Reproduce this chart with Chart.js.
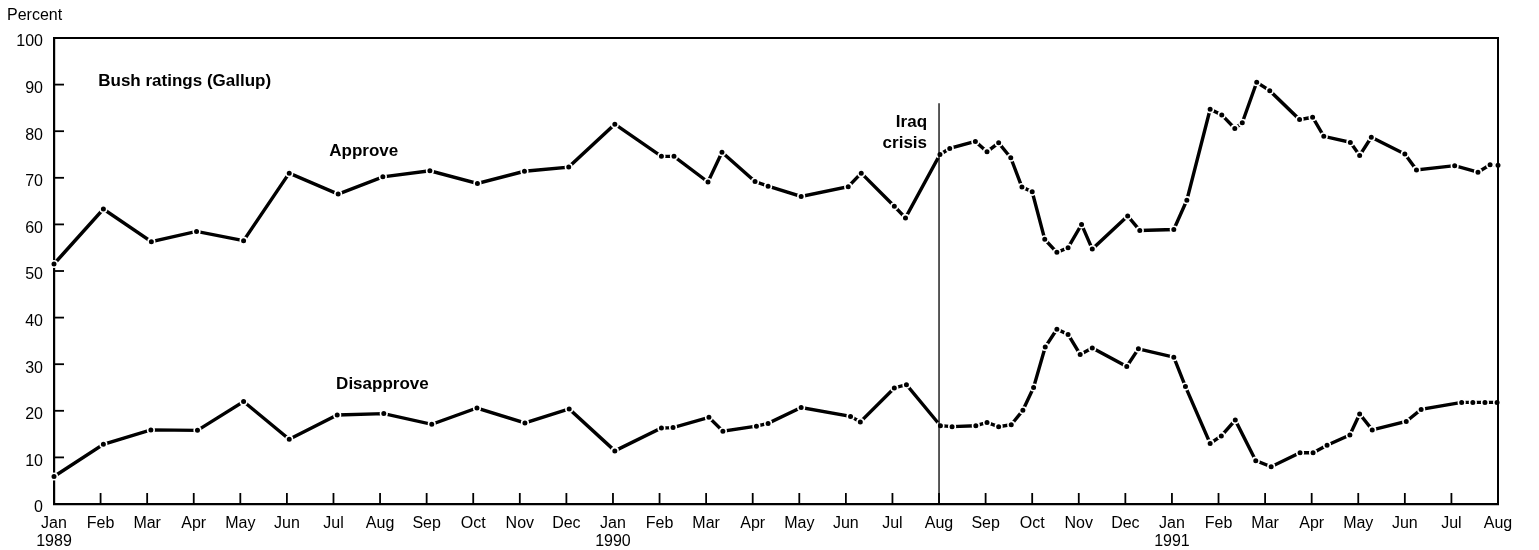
<!DOCTYPE html>
<html>
<head>
<meta charset="utf-8">
<script src="https://cdn.jsdelivr.net/npm/chart.js@4.4.1/dist/chart.umd.min.js"></script>
<style>
html,body{margin:0;padding:0;background:#fff;}
#wrap{position:relative;width:1539px;height:550px;}
</style>
</head>
<body>
<div id="wrap"><canvas id="c" width="1539" height="550"></canvas></div>
<script>
// Month ticks (0 = Jan 1989 ... 31 = Aug 1991)
const monthNames = ['Jan','Feb','Mar','Apr','May','Jun','Jul','Aug','Sep','Oct','Nov','Dec'];
const yearLabels = {0:'1989', 12:'1990', 24:'1991'};
const yTicks = [0,10,20,30,40,50,60,70,80,90,100];

// Approve series (x = fractional month index)
const approveX = [0.0,1.06,2.09,3.06,4.07,5.05,6.10,7.06,8.07,9.09,10.10,11.05,12.04,13.04,13.31,14.04,14.34,15.05,15.33,16.04,17.05,17.33,18.04,18.28,19.02,19.23,19.78,20.03,20.28,20.54,20.78,21.00,21.27,21.53,21.77,22.06,22.29,23.05,23.31,24.04,24.32,24.82,25.07,25.35,25.51,25.82,26.10,26.74,27.02,27.26,27.83,28.03,28.28,29.00,29.25,30.07,30.57,30.83,31.00];
const approveY = [51.5,63.3,56.3,58.5,56.5,71.0,66.5,70.2,71.5,68.8,71.4,72.3,81.5,74.6,74.6,69.1,75.5,69.2,68.2,66.0,68.1,71.0,63.9,61.4,75.0,76.3,77.8,75.6,77.5,74.3,68.0,67.0,56.8,54.0,55.0,60.0,54.7,61.8,58.7,58.9,65.2,84.7,83.5,80.6,81.8,90.5,88.7,82.5,83.0,78.9,77.6,74.8,78.7,75.1,71.7,72.6,71.2,72.8,72.7];

// Disapprove series
const disapproveX = [0.0,1.06,2.08,3.08,4.07,5.05,6.08,7.08,8.11,9.08,10.11,11.06,12.04,13.04,13.29,14.06,14.36,15.08,15.33,16.04,17.10,17.31,18.04,18.30,19.03,19.28,19.79,20.03,20.28,20.55,20.80,21.03,21.28,21.53,21.77,22.03,22.29,23.03,23.28,24.04,24.29,24.82,25.06,25.36,25.80,26.13,26.75,27.03,27.33,27.82,28.03,28.30,29.03,29.35,30.22,30.46,30.72,30.98];
const disapproveY = [5.9,12.8,15.9,15.8,22.0,13.9,19.1,19.4,17.1,20.6,17.4,20.4,11.4,16.3,16.4,18.6,15.6,16.7,17.3,20.7,18.8,17.6,24.9,25.6,16.8,16.6,16.8,17.5,16.6,17.0,20.1,25.0,33.7,37.5,36.4,32.1,33.5,29.5,33.3,31.5,25.2,13.0,14.6,18.0,9.3,8.0,11.0,11.0,12.6,14.8,19.3,15.9,17.7,20.3,21.8,21.8,21.8,21.8];

// Iraq crisis marker
const crisisMonth = [19];
const crisisTop = [86];

const FONT = "'Liberation Sans', Arial, Helvetica, sans-serif";

function pts(xs, ys){ return xs.map((x,i)=>({x:x, y:ys[i]})); }

const lineStyle = {
  borderColor:'#000', borderWidth:3.4, pointRadius:3.3, pointBackgroundColor:'#000',
  pointBorderColor:'#fff', pointBorderWidth:1.6, tension:0, fill:false, clip:false
};

const decor = {
  id:'decor',
  afterDatasetsDraw(chart){
    const ctx = chart.ctx, ca = chart.chartArea;
    const xs = chart.scales.x, ys = chart.scales.y;
    ctx.save();
    ctx.strokeStyle = '#000';
    // frame top and right
    ctx.lineWidth = 2;
    ctx.beginPath();
    ctx.moveTo(ca.left, ca.top); ctx.lineTo(ca.right, ca.top); ctx.lineTo(ca.right, ca.bottom);
    ctx.stroke();
    // inner x ticks
    ctx.lineWidth = 1.8;
    for(let m=1;m<31;m++){
      const px = xs.getPixelForValue(m);
      ctx.beginPath(); ctx.moveTo(px, ca.bottom); ctx.lineTo(px, ca.bottom-11); ctx.stroke();
    }
    // inner y ticks
    for(const v of yTicks){
      if(v===0||v===100) continue;
      const py = ys.getPixelForValue(v);
      ctx.beginPath(); ctx.moveTo(ca.left, py); ctx.lineTo(ca.left+10, py); ctx.stroke();
    }
    // crisis line
    ctx.lineWidth = 1.3;
    const cx = xs.getPixelForValue(crisisMonth[0]);
    ctx.beginPath(); ctx.moveTo(cx, ys.getPixelForValue(0)); ctx.lineTo(cx, ys.getPixelForValue(crisisTop[0])); ctx.stroke();

    ctx.fillStyle = '#000';
    ctx.textBaseline = 'middle';
    // y tick labels (sit slightly below their ticks, as in the original)
    ctx.font = '16px ' + FONT;
    ctx.textAlign = 'right';
    for(const v of yTicks){
      ctx.fillText(String(v), ca.left - 11, ys.getPixelForValue(v) + 4);
    }
    // annotations
    ctx.font = 'bold 17px ' + FONT;
    ctx.textAlign = 'left';
    ctx.fillText('Bush ratings (Gallup)', xs.getPixelForValue(0.95), ys.getPixelForValue(90.8));
    ctx.textAlign = 'center';
    ctx.fillText('Approve', xs.getPixelForValue(6.65), ys.getPixelForValue(75.7));
    ctx.fillText('Disapprove', xs.getPixelForValue(7.05), ys.getPixelForValue(25.6));
    ctx.textAlign = 'right';
    ctx.fillText('Iraq', cx-12, ys.getPixelForValue(82.0));
    ctx.fillText('crisis', cx-12, ys.getPixelForValue(77.5));
    // axis title
    ctx.font = '16px ' + FONT;
    ctx.textAlign = 'left';
    ctx.fillText('Percent', 7, 16);
    ctx.restore();
  }
};

new Chart(document.getElementById('c'), {
  type:'line',
  data:{
    datasets:[
      Object.assign({label:'Approve', data:pts(approveX, approveY)}, lineStyle),
      Object.assign({label:'Disapprove', data:pts(disapproveX, disapproveY)}, lineStyle)
    ]
  },
  options:{
    responsive:false, animation:false,
    layout:{padding:{top:38, right:41, left:0, bottom:0}},
    plugins:{legend:{display:false}, tooltip:{enabled:false}},
    scales:{
      x:{
        type:'linear', min:0, max:31,
        afterFit(s){ s.height = 46; },
        afterBuildTicks(s){ s.ticks = Array.from({length:32},(_,i)=>({value:i})); },
        grid:{display:false, drawTicks:false},
        border:{display:true, color:'#000', width:2.2},
        ticks:{
          autoSkip:false, maxRotation:0, padding:11, color:'#000',
          font:{family:FONT, size:16, lineHeight:1.1},
          callback(v){ const i = Math.round(v); const n = monthNames[i%12]; return yearLabels[i] ? [n, yearLabels[i]] : n; }
        }
      },
      y:{
        min:0, max:100,
        afterFit(s){ s.width = 54; },
        afterBuildTicks(s){ s.ticks = yTicks.map(v=>({value:v})); },
        grid:{display:false, drawTicks:false},
        border:{display:true, color:'#000', width:2.2},
        ticks:{display:false}
      }
    }
  },
  plugins:[decor]
});
</script>
</body>
</html>
